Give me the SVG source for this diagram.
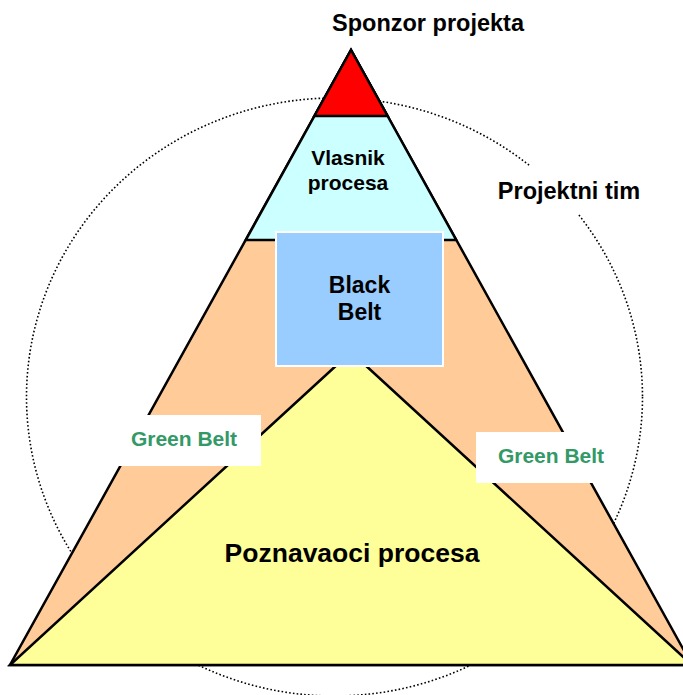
<svg xmlns="http://www.w3.org/2000/svg" width="683" height="695" viewBox="0 0 683 695">
<style>
.t{font-family:"Liberation Sans",Arial,sans-serif;font-weight:bold;fill:#000;text-anchor:middle}
.g{font-family:"Liberation Sans",Arial,sans-serif;font-weight:bold;fill:#339966;text-anchor:middle;font-size:21px}
.ln{stroke:#000;stroke-width:2.5;stroke-linejoin:miter}
</style>
<rect width="683" height="695" fill="#fff"/>
<g id="team-circle">
<ellipse cx="334.5" cy="397" rx="308" ry="299" fill="none" stroke="#000" stroke-width="1.6" stroke-dasharray="1.6 2.2"/>
<rect x="490" y="166" width="160" height="48" fill="#fff"/>
<text class="t" x="569" y="199" font-size="23.5">Projektni tim</text>
</g>
<g id="green-belt-layer">
<polygon class="ln" points="351,50 10,665 692,665" fill="#FFCC99"/>
</g>
<g id="vlasnik">
<polygon class="ln" points="351,50 245.8,240 456.2,240" fill="#CCFFFF"/>
<text class="t" x="348" y="165" font-size="21">Vlasnik</text>
<text class="t" x="348" y="190" font-size="21">procesa</text>
</g>
<g id="sponzor">
<polygon class="ln" points="351,50 314.4,116 387.6,116" fill="#FF0000"/>
<text class="t" x="428" y="31" font-size="23.5">Sponzor projekta</text>
</g>
<g id="poznavaoci">
<polygon class="ln" points="351,352 10,665 692,665" fill="#FFFF99"/>
<text class="t" x="352" y="562" font-size="26.5">Poznavaoci procesa</text>
</g>
<g id="black-belt">
<rect x="276" y="232" width="167" height="134" fill="#99CCFF" stroke="#fff" stroke-width="2"/>
<text class="t" x="359.5" y="293" font-size="23">Black</text>
<text class="t" x="359.5" y="320" font-size="23">Belt</text>
</g>
<g id="green-belt-left">
<rect x="115" y="415" width="146" height="51" fill="#fff"/>
<text class="g" x="184" y="446">Green Belt</text>
</g>
<g id="green-belt-right">
<rect x="476" y="432" width="144" height="51" fill="#fff"/>
<text class="g" x="551" y="463">Green Belt</text>
</g>
<g id="connectors"></g>
</svg>
